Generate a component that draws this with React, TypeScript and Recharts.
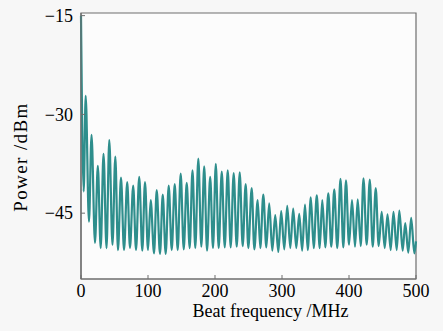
import React from 'react';
import { LineChart, Line, XAxis, YAxis, CartesianGrid, ReferenceArea } from 'recharts';

// maxima of the beat spectrum (MHz, dBm)
const peakFreq = [
  0, 7, 15.7, 25.1, 33.6, 42.2, 51.2, 59.7, 69, 77.9, 86.9, 95.5, 104, 113, 122, 130.9, 139.9, 148.8,
  157.8, 166.4, 175.1, 183.9, 192.8, 201.2, 210.1, 219, 227.9, 236.9, 245.8, 254.8, 263.7, 272.1, 280.9,
  289.9, 298.8, 307.8, 316.7, 325.7, 334.3, 343, 351.9, 360.1, 369.1, 378, 387.3, 395.5, 404.5, 413,
  421.6, 431, 439.9, 448.8, 457.5, 466.4, 475.1, 483.9, 492.8,
];
const peakPower = [
  -15, -27.2, -33.1, -37.8, -36.0, -33.9, -36.4, -39.6, -40.3, -40.8, -39.5, -40.3, -43.0, -41.5, -42.2,
  -40.8, -40.6, -39.0, -40.4, -38.5, -36.7, -37.9, -39.5, -37.5, -38.7, -38.5, -38.9, -38.8, -40.6, -41.2,
  -43.0, -42.2, -43.5, -45.3, -44.7, -43.9, -44.3, -45.1, -43.7, -42.6, -42.3, -43.0, -42.0, -41.4, -39.8,
  -40.0, -43.0, -42.9, -39.7, -39.9, -41.2, -44.8, -45.2, -44.8, -44.6, -46.5, -45.7,
];

// minima (last entry is where the trace leaves the plot at 500 MHz)
const troughFreq = [
  4, 11.9, 20.9, 29.4, 38.1, 47, 55.2, 64.2, 73.1, 82.1, 91.5, 100, 109, 117.9, 126.4, 135.4, 144.3,
  153.3, 162.2, 170.6, 179.6, 188.1, 197, 205.5, 214.5, 223.4, 232.4, 241.3, 249.7, 258.7, 267.6, 276.6,
  285.5, 294.5, 303.4, 312.4, 321.3, 330.1, 338.4, 347.3, 356.3, 364.6, 373.6, 382.5, 391.5, 400, 409,
  417.5, 426.4, 435.4, 444.3, 453.3, 462.2, 471.2, 480.1, 488.5, 497.5, 500,
];
const troughPower = [
  -41.7, -46.3, -49.5, -50.3, -50.3, -49.8, -50.6, -50.6, -50.3, -50.6, -50.7, -50.6, -51.1, -51.2, -51.2,
  -50.6, -50.6, -50.5, -50.3, -50.3, -50.1, -50.7, -50.3, -50.3, -50.2, -50.2, -50.1, -50.0, -50.3, -50.5,
  -50.3, -50.2, -50.7, -50.9, -50.5, -50.3, -50.3, -50.7, -50.6, -50.3, -50.3, -50.2, -50.1, -50.3, -50.2,
  -49.8, -50.1, -50.0, -49.8, -50.1, -50.0, -50.3, -50.6, -50.6, -50.7, -51.0, -51.1, -49.3,
];

const xTicks = [0, 100, 200, 300, 400, 500];
const yTicks = [-15, -30, -45];

const dados = [
  ...peakFreq.map((f, i) => ({ freq: f, power: peakPower[i] })),
  ...troughFreq.map((f, i) => ({ freq: f, power: troughPower[i] })),
].sort((a, b) => a.freq - b.freq);

const FONTE = '"Liberation Serif", "DejaVu Serif", serif';
const COR_LINHA = '#2e8e8c';
const COR_EIXO = '#6e6e6e';
const COR_TEXTO = '#000';

const fmt = (v: number) => (v < 0 ? '\u2212' + Math.abs(v) : String(v));

function TickX({ x, y, payload }: any) {
  return (
    <g>
      <line x1={x} y1={y} x2={x} y2={y - 4} stroke={COR_EIXO} strokeWidth={1} />
      <text x={x} y={y + 18} textAnchor="middle" fontFamily={FONTE} fontSize={18} fill={COR_TEXTO}>
        {fmt(payload.value)}
      </text>
    </g>
  );
}

function TickY({ x, y, payload }: any) {
  return (
    <g>
      <line x1={x} y1={y} x2={x + 4} y2={y} stroke={COR_EIXO} strokeWidth={1} />
      <text x={x - 8} y={y} dy="0.35em" textAnchor="end" fontFamily={FONTE} fontSize={18} fill={COR_TEXTO}>
        {fmt(payload.value)}
      </text>
    </g>
  );
}

function RotuloY({ viewBox }: any) {
  const vb = viewBox || { x: 0, y: 13, width: 81, height: 266 };
  const cx = vb.x + 20;
  const cy = vb.y + vb.height / 2 + 11;
  return (
    <text
      x={cx}
      y={cy}
      transform={`rotate(-90 ${cx} ${cy})`}
      textAnchor="middle"
      dy="0.35em"
      fontFamily={FONTE}
      fontSize={19}
      letterSpacing={1.4}
      fill={COR_TEXTO}
    >
      Power /dBm
    </text>
  );
}

function RotuloX({ viewBox }: any) {
  const vb = viewBox || { x: 81, y: 279, width: 335, height: 40 };
  return (
    <text
      x={vb.x + vb.width / 2 + 22}
      y={vb.y + 38}
      textAnchor="middle"
      fontFamily={FONTE}
      fontSize={18}
      fill={COR_TEXTO}
    >
      Beat frequency /MHz
    </text>
  );
}

export default function App() {
  return (
    <div style={{ position: 'absolute', left: 0, top: 0, width: 443, height: 331, background: '#f7f7f7' }}>
      <LineChart width={443} height={331} data={dados} margin={{ top: 13, right: 27, bottom: 12, left: 0 }}>
        <CartesianGrid horizontal={false} vertical={false} fill="#fcfcfc" />
        <XAxis
          dataKey="freq"
          type="number"
          domain={[0, 500]}
          ticks={xTicks}
          height={40}
          tickSize={0}
          tickMargin={0}
          tickLine={false}
          axisLine={{ stroke: COR_EIXO, strokeWidth: 1.2 }}
          tick={<TickX />}
          label={{ content: RotuloX }}
        />
        <YAxis
          type="number"
          domain={[-55, -14.6]}
          ticks={yTicks}
          width={81}
          tickSize={0}
          tickMargin={0}
          tickLine={false}
          axisLine={{ stroke: COR_EIXO, strokeWidth: 1.2 }}
          tick={<TickY />}
          label={{ content: RotuloY }}
          allowDataOverflow
        />
        <Line
          type="monotone"
          dataKey="power"
          stroke={COR_LINHA}
          strokeWidth={2.2}
          dot={false}
          isAnimationActive={false}
        />
        <ReferenceArea
          x1={0}
          x2={500}
          y1={-55}
          y2={-14.6}
          ifOverflow="visible"
          fill="none"
          stroke={COR_EIXO}
          strokeWidth={1.2}
        />
      </LineChart>
    </div>
  );
}
